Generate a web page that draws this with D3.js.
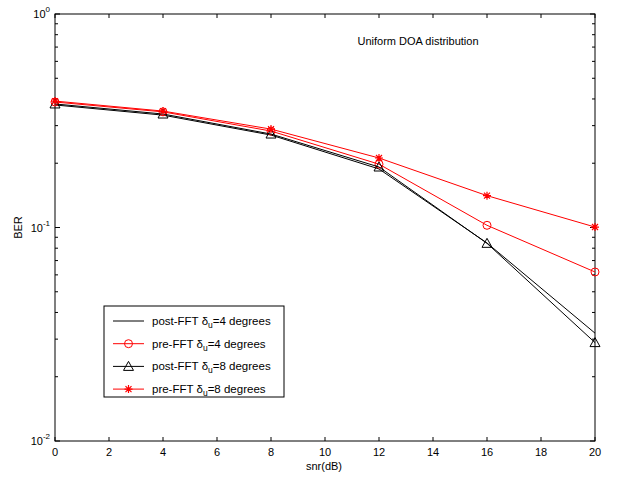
<!DOCTYPE html>
<html>
<head>
<meta charset="utf-8">
<script src="https://cdn.jsdelivr.net/npm/d3@7"></script>
<style>
  body { margin: 0; background: #fff; }
  text { font-family: "Liberation Sans", Arial, sans-serif; }
</style>
</head>
<body>
<svg id="chart" width="617" height="477"></svg>
<script>
// snr values (dB)
const snr = [0, 4, 8, 12, 16, 20];

// BER series
const postFFT4 = [0.375, 0.336, 0.271, 0.188, 0.0846, 0.0320];
const preFFT4  = [0.387, 0.348, 0.283, 0.198, 0.1024, 0.0619];
const postFFT8 = [0.379, 0.340, 0.274, 0.192, 0.0843, 0.0289];
const preFFT8  = [0.391, 0.351, 0.289, 0.2116, 0.141, 0.1005];

const seriesNames = ["post-FFT", "pre-FFT", "post-FFT", "pre-FFT"];
const seriesDeg = ["4", "4", "8", "8"];
const xTicks = [0, 2, 4, 6, 8, 10, 12, 14, 16, 18, 20];
const yDecades = [0, -1, -2];

const margin = {left: 55, right: 22, top: 14, bottom: 36};
const width = 617, height = 477;

const x = d3.scaleLinear().domain([0, 20]).range([margin.left, width - margin.right]);
const y = d3.scaleLog().domain([0.01, 1]).range([height - margin.bottom, margin.top]);

const svg = d3.select("#chart");

const series = [
    {data: postFFT4, color: "#000", marker: "none"},
    {data: preFFT4, color: "#ff0000", marker: "circle"},
    {data: postFFT8, color: "#000", marker: "triangle"},
    {data: preFFT8, color: "#ff0000", marker: "star"}
];

// axes box with inward ticks
const minorTicks = y.ticks();
const majorVals = yDecades.map(e => Math.pow(10, e));

function tickLen(v) {
    return majorVals.some(m => Math.abs(m - v) < 1e-9) ? 5 : 3;
}

const axisG = svg.append("g");
axisG.append("rect")
    .attr("x", x(0)).attr("y", y(1))
    .attr("width", x(20) - x(0)).attr("height", y(0.01) - y(1))
    .attr("fill", "none").attr("stroke", "#000").attr("stroke-width", 1);

xTicks.forEach(t => {
    axisG.append("line")
        .attr("x1", x(t)).attr("x2", x(t))
        .attr("y1", y(0.01)).attr("y2", y(0.01) - 4)
        .attr("stroke", "#000");
    axisG.append("line")
        .attr("x1", x(t)).attr("x2", x(t))
        .attr("y1", y(1)).attr("y2", y(1) + 4)
        .attr("stroke", "#000");
    axisG.append("text")
        .attr("x", x(t)).attr("y", y(0.01) + 15)
        .attr("text-anchor", "middle")
        .attr("font-size", 11)
        .text(t);
});

minorTicks.forEach(v => {
    const len = tickLen(v);
    axisG.append("line")
        .attr("x1", x(0)).attr("x2", x(0) + len)
        .attr("y1", y(v)).attr("y2", y(v))
        .attr("stroke", "#000");
    axisG.append("line")
        .attr("x1", x(20)).attr("x2", x(20) - len)
        .attr("y1", y(v)).attr("y2", y(v))
        .attr("stroke", "#000");
});

yDecades.forEach(e => {
    const t = axisG.append("text")
        .attr("x", x(0) - 5).attr("y", y(Math.pow(10, e)) + 4)
        .attr("text-anchor", "end")
        .attr("font-size", 11);
    t.append("tspan").text("10");
    t.append("tspan").attr("dy", -6).attr("font-size", 8).text(e);
});

// axis labels and annotation
svg.append("text")
    .attr("x", 324).attr("y", 470)
    .attr("text-anchor", "middle")
    .attr("font-size", 11)
    .text("snr(dB)");

svg.append("text")
    .attr("transform", `translate(22,${y(0.1)}) rotate(-90)`)
    .attr("text-anchor", "middle")
    .attr("font-size", 11)
    .text("BER");

svg.append("text")
    .attr("x", 418).attr("y", 45)
    .attr("text-anchor", "middle")
    .attr("font-size", 11)
    .text("Uniform DOA distribution");

// markers
function drawMarker(g, kind, cx, cy, color) {
    if (kind === "circle") {
        g.append("circle")
            .attr("cx", cx).attr("cy", cy).attr("r", 4)
            .attr("fill", "none").attr("stroke", color);
    } else if (kind === "triangle") {
        g.append("path")
            .attr("d", `M${cx},${cy - 5}L${cx + 5},${cy + 4}L${cx - 5},${cy + 4}Z`)
            .attr("fill", "none").attr("stroke", color);
    } else if (kind === "star") {
        const r = 4, d = 3;
        g.append("path")
            .attr("d", `M${cx - r},${cy}L${cx + r},${cy}M${cx},${cy - r}L${cx},${cy + r}` +
                       `M${cx - d},${cy - d}L${cx + d},${cy + d}M${cx - d},${cy + d}L${cx + d},${cy - d}`)
            .attr("fill", "none").attr("stroke", color).attr("stroke-width", 1.2);
    }
}

const line = d3.line()
    .x((d, i) => x(snr[i]))
    .y(d => y(d));

const plotG = svg.append("g");
series.forEach(s => {
    plotG.append("path")
        .attr("d", line(s.data))
        .attr("fill", "none")
        .attr("stroke", s.color)
        .attr("stroke-width", 1);
    s.data.forEach((v, i) => drawMarker(plotG, s.marker, x(snr[i]), y(v), s.color));
});

// legend
const legendG = svg.append("g");
legendG.append("rect")
    .attr("x", 104).attr("y", 306)
    .attr("width", 180).attr("height", 91)
    .attr("fill", "#fff").attr("stroke", "#000");

series.forEach((s, i) => {
    const ly = 321 + i * 22.7;
    legendG.append("line")
        .attr("x1", 113).attr("x2", 144)
        .attr("y1", ly).attr("y2", ly)
        .attr("stroke", s.color);
    drawMarker(legendG, s.marker, 128.5, ly, s.color);
    const t = legendG.append("text")
        .attr("x", 152).attr("y", ly + 4)
        .attr("font-size", 11.5);
    t.append("tspan").text(seriesNames[i] + " \u03b4");
    t.append("tspan").attr("dy", 3).attr("font-size", 8.5).text("u");
    t.append("tspan").attr("dy", -3).text("=" + seriesDeg[i] + " degrees");
});
</script>
</body>
</html>
